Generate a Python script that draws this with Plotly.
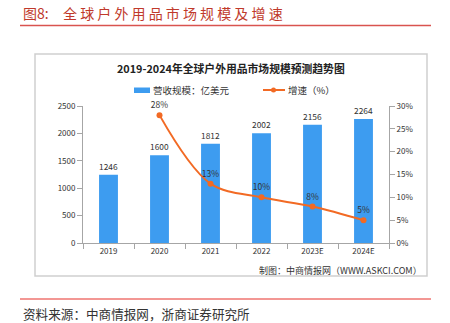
import plotly.graph_objects as go

years = ["2019", "2020", "2021", "2022", "2023E", "2024E"]
revenue = [1246, 1600, 1812, 2002, 2156, 2264]
growth = [None, 28, 13, 10, 8, 5]
growth_labels = ["", "28%", "13%", "10%", "8%", "5%"]

header_title = "全 球 户 外 用 品 市 场 规 模 及 增 速"
chart_title = "2019-2024年全球户外用品市场规模预测趋势图"
legend_bar = "营收规模：亿美元"
legend_line = "增速（%）"
credit = "制图：中商情报网（WWW.ASKCI.COM）"
source = "资料来源：中商情报网，浙商证券研究所"

FONT = "Noto Sans CJK SC"
BAR_C = "#3D9CF0"
LINE_C = "#F26A24"
RED = "#C0392B"

W, H = 450, 323
L, R, T, B = 83, 61, 106, 80
PW, PH = W - L - R, H - T - B


def px(x):
    return (x - L) / PW


def py(y):
    return (H - B - y) / PH


fig = go.Figure()
fig.add_trace(go.Bar(
    x=years, y=revenue, marker_color=BAR_C, marker_line_width=0,
    text=[str(v) for v in revenue], textposition="outside",
    textfont=dict(size=8.5, color="#333333", family=FONT),
    cliponaxis=False, showlegend=False, name=legend_bar,
))
fig.add_trace(go.Scatter(
    x=years, y=growth, yaxis="y2", mode="lines+markers+text",
    line=dict(color=LINE_C, width=2, shape="spline", smoothing=1.0),
    marker=dict(size=6, color=LINE_C),
    text=growth_labels, textposition="top center",
    textfont=dict(size=8.5, color="#333333", family=FONT),
    cliponaxis=False, showlegend=False, name=legend_line,
))

axis_common = dict(showgrid=False, zeroline=False, linecolor="#A6A6A6", linewidth=1,
                   ticks="outside", tickcolor="#A6A6A6", ticklen=5,
                   tickfont=dict(size=8, color="#333333", family=FONT))

fig.update_layout(
    width=W, height=H, margin=dict(l=L, r=R, t=T, b=B),
    paper_bgcolor="white", plot_bgcolor="white",
    bargap=0.63, showlegend=False,
    font=dict(family=FONT),
    xaxis=dict(**axis_common, tickson="boundaries", showline=True),
    yaxis=dict(**axis_common, range=[0, 2500], dtick=500, showline=True),
    yaxis2=dict(**axis_common, overlaying="y", side="right", range=[0, 30], dtick=5,
                ticksuffix="%", showline=True),
)

shapes = [
    # outer box
    dict(type="rect", xref="paper", yref="paper", x0=px(35), x1=px(427), y0=py(276), y1=py(54),
         line=dict(color="#CFCFCF", width=1.5), layer="below"),
    # header line
    dict(type="line", xref="paper", yref="paper", x0=px(20), x1=px(431), y0=py(25.5), y1=py(25.5),
         line=dict(color="#D9534F", width=1.5)),
    # bottom line
    dict(type="line", xref="paper", yref="paper", x0=px(20), x1=px(431), y0=py(299), y1=py(299),
         line=dict(color="#E8302A", width=1.2)),
    # legend swatches
    dict(type="rect", xref="paper", yref="paper", x0=px(134), x1=px(150), y0=py(93), y1=py(87.5),
         fillcolor=BAR_C, line=dict(width=0)),
    dict(type="line", xref="paper", yref="paper", x0=px(263), x1=px(285), y0=py(90), y1=py(90),
         line=dict(color=LINE_C, width=2)),
    dict(type="circle", xref="paper", yref="paper", x0=px(271), x1=px(276), y0=py(92.5), y1=py(87.5),
         fillcolor=LINE_C, line=dict(width=0)),
]
fig.update_layout(shapes=shapes)

ann = [
    dict(text="图8:", x=px(21), y=py(13), xanchor="left", yanchor="middle",
         font=dict(size=14, color=RED, family=FONT)),
    dict(text=header_title, x=px(61), y=py(13), xanchor="left", yanchor="middle",
         font=dict(size=14, color=RED, family=FONT)),
    dict(text="<b>" + chart_title + "</b>", x=px(231), y=py(68), xanchor="center", yanchor="middle",
         font=dict(size=10.8, color="#222222", family=FONT)),
    dict(text=legend_bar, x=px(151), y=py(90), xanchor="left", yanchor="middle",
         font=dict(size=9.5, color="#333333", family=FONT)),
    dict(text=legend_line, x=px(286), y=py(90), xanchor="left", yanchor="middle",
         font=dict(size=9.5, color="#333333", family=FONT)),
    dict(text=credit, x=px(424), y=py(270), xanchor="right", yanchor="middle",
         font=dict(size=9, color="#333333", family=FONT)),
    dict(text=source, x=px(21), y=py(313), xanchor="left", yanchor="middle",
         font=dict(size=12.6, color="#333333", family=FONT)),
]
for a in ann:
    a.update(xref="paper", yref="paper", showarrow=False)
fig.update_layout(annotations=ann)

fig.write_html("out.html")
